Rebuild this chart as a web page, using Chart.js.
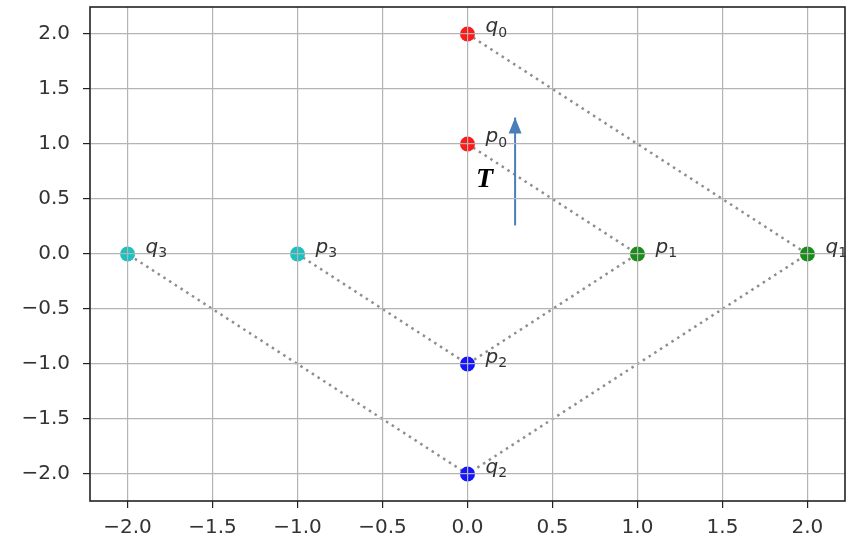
<!DOCTYPE html>
<html>
<head>
<meta charset="utf-8">
<script src="https://cdn.jsdelivr.net/npm/chart.js@4.4.0/dist/chart.umd.min.js"></script>
<style>
  body { margin: 0; background: #fff; }
  #wrap { width: 849px; height: 539px; }
</style>
</head>
<body>
<div id="wrap"><canvas id="chart" width="849" height="539"></canvas></div>
<script>
// --- data ---
const pointNames = ['q0', 'p0', 'p1', 'q1', 'p2', 'q2', 'p3', 'q3'];
const pointX = [0, 0, 1, 2, 0, 0, -1, -2];
const pointY = [2, 1, 0, 0, -1, -2, 0, 0];
const qPath = ['q0', 'q1', 'q2', 'q3'];
const pPath = ['p0', 'p1', 'p2', 'p3'];
const xTicks = [-2.0, -1.5, -1.0, -0.5, 0.0, 0.5, 1.0, 1.5, 2.0];
const yTicks = [-2.0, -1.5, -1.0, -0.5, 0.0, 0.5, 1.0, 1.5, 2.0];
const arrowX = 0.28;
const arrowY = [0.26, 1.24];   // tail, tip
const arrowLabel = 'T';
const arrowLabelPos = [0.1, 0.61];

// --- styles ---
const pointColors = ['#ff1a1a', '#ff1a1a', '#1a8c1a', '#1a8c1a', '#1414ff', '#1414ff', '#1cc0c0', '#1cc0c0'];
const arrowColor = '#4a7ebb';
const gridColor = '#b4b4b4';
const textColor = '#333';

const pathData = names => names.map(n => {
    const i = pointNames.indexOf(n);
    return { x: pointX[i], y: pointY[i] };
});

const fmt = v => (v < 0 ? '\u2212' : '') + Math.abs(v).toFixed(1);

// frame, arrow head, point names and T label
const annotate = {
    id: 'annotate',
    afterDraw(chart) {
        const { ctx, chartArea, scales: { x, y } } = chart;
        ctx.save();
        ctx.strokeStyle = '#222';
        ctx.lineWidth = 1.6;
        ctx.strokeRect(chartArea.left, chartArea.top, chartArea.right - chartArea.left, chartArea.bottom - chartArea.top);

        const ax = x.getPixelForValue(arrowX);
        const tipY = y.getPixelForValue(arrowY[1]);
        ctx.fillStyle = arrowColor;
        ctx.beginPath();
        ctx.moveTo(ax, tipY);
        ctx.lineTo(ax - 6.5, tipY + 16);
        ctx.lineTo(ax + 6.5, tipY + 16);
        ctx.closePath();
        ctx.fill();

        ctx.fillStyle = textColor;
        ctx.textAlign = 'left';
        ctx.textBaseline = 'alphabetic';
        pointNames.forEach((n, i) => {
            const px = x.getPixelForValue(pointX[i]) + 18;
            const py = y.getPixelForValue(pointY[i]);
            ctx.font = 'italic 20px "DejaVu Sans"';
            ctx.fillText(n[0], px, py - 1.5);
            const w = ctx.measureText(n[0]).width;
            ctx.font = '14px "DejaVu Sans"';
            ctx.fillText(n.slice(1), px + w, py + 3);
        });

        ctx.font = 'bold italic 28px "Liberation Serif"';
        ctx.fillStyle = '#000';
        ctx.textAlign = 'center';
        ctx.fillText(arrowLabel, x.getPixelForValue(arrowLabelPos[0]), y.getPixelForValue(arrowLabelPos[1]));
        ctx.restore();
    }
};

const dotted = {
    type: 'line',
    borderColor: 'rgba(130,130,130,0.9)',
    borderWidth: 2.5,
    borderDash: [2.5, 4.3],
    pointRadius: 0,
    fill: false,
    tension: 0
};

new Chart(document.getElementById('chart'), {
    type: 'scatter',
    data: {
        datasets: [
            {
                label: 'points',
                data: pointX.map((v, i) => ({ x: v, y: pointY[i] })),
                pointBackgroundColor: pointColors,
                pointBorderWidth: 0,
                pointRadius: 7.5
            },
            {
                label: 'arrow',
                type: 'line',
                data: [{ x: arrowX, y: arrowY[0] }, { x: arrowX, y: arrowY[1] }],
                borderColor: arrowColor,
                borderWidth: 2,
                pointRadius: 0
            },
            Object.assign({ label: 'q path', data: pathData(qPath) }, dotted),
            Object.assign({ label: 'p path', data: pathData(pPath) }, dotted)
        ]
    },
    options: {
        responsive: false,
        animation: false,
        events: [],
        layout: { autoPadding: false, padding: { top: 7, right: 4, bottom: 0, left: 0 } },
        plugins: { legend: { display: false }, tooltip: { enabled: false } },
        scales: {
            x: {
                type: 'linear',
                min: -2.221,
                max: 2.221,
                afterBuildTicks: s => { s.ticks = xTicks.map(v => ({ value: v })); },
                afterFit: s => { s.height = 38; s.paddingLeft = 0; s.paddingRight = 0; },
                border: { display: false },
                grid: { color: gridColor, lineWidth: 1.2, z: 1, tickLength: 7, tickColor: '#222' },
                ticks: {
                    padding: 8, color: textColor, autoSkip: false, maxRotation: 0,
                    font: { family: 'DejaVu Sans', size: 20 },
                    callback: fmt
                }
            },
            y: {
                type: 'linear',
                min: -2.245,
                max: 2.245,
                afterBuildTicks: s => { s.ticks = yTicks.map(v => ({ value: v })); },
                afterFit: s => { s.width = 90; s.paddingTop = 0; s.paddingBottom = 0; },
                border: { display: false },
                grid: { color: gridColor, lineWidth: 1.2, z: 1, tickLength: 7, tickColor: '#222' },
                ticks: {
                    padding: 13, color: textColor, autoSkip: false,
                    font: { family: 'DejaVu Sans', size: 20 },
                    callback: fmt
                }
            }
        }
    },
    plugins: [annotate]
});
</script>
</body>
</html>
